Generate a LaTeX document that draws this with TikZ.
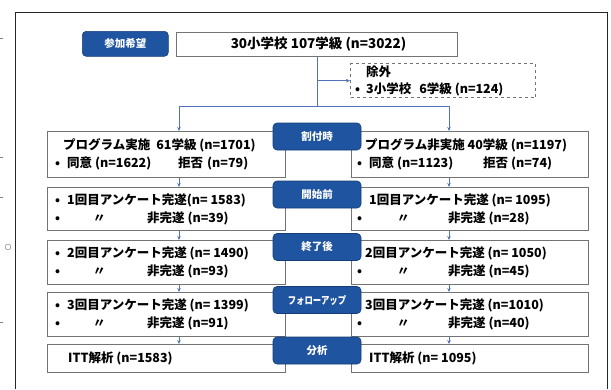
\documentclass[tikz,border=0pt]{standalone}
\usepackage{fontspec}
\setmainfont{Noto Sans CJK JP}
\newfontfamily\symfont{DejaVu Sans}
\usetikzlibrary{arrows.meta,calc}
\definecolor{labblue}{RGB}{31,84,160}
\definecolor{labdark}{RGB}{20,60,120}
\definecolor{boxgray}{RGB}{115,115,115}
\definecolor{connblue}{RGB}{80,115,185}
\newcommand{\bul}{\makebox[12pt][l]{•}}
\newcommand{\nob}{\hspace*{8pt}}
\begin{document}
\begin{tikzpicture}[x=1pt,y=-1pt,
  box/.style={draw=boxgray, line width=1.1pt, fill=white, anchor=north west, inner sep=0pt},
  lab/.style={fill=labblue, draw=labdark, line width=0.6pt, rounded corners=4pt, text=white,
    font=\bfseries\fontsize{10.5}{12}\selectfont, minimum width=88pt, minimum height=27pt, inner sep=0pt},
  txt/.style={anchor=west, align=left, font=\bfseries\fontsize{12.5}{18}\selectfont, inner sep=0pt},
  conn/.style={draw=connblue, line width=0.8pt, -{Stealth[length=4pt,width=3.5pt]}},
  plain/.style={draw=connblue, line width=0.8pt}]
\useasboundingbox (0,0) rectangle (611,389);
% page frame
\draw[line width=1.4pt, black!85] (15.5,389) -- (15.5,12.5) -- (607.5,12.5) -- (607.5,389);
% scan marks
\draw[black!50, line width=0.6pt] (0,38) -- (3,38);
\draw[black!50, line width=0.6pt] (0,157) -- (3,157);
\draw[black!50, line width=0.6pt] (0,197) -- (3,197);
\draw[black!50, line width=0.6pt] (0,322) -- (3,322);
\node[font=\symfont\fontsize{8}{8}\selectfont, text=black!70, inner sep=0pt] (circ) at (8,247) {○};

% top
\node[lab, anchor=north west, minimum width=86pt, minimum height=25pt] (l0) at (82,31) {参加希望};
\node[box, minimum width=281pt, minimum height=24pt] (top) at (176,32) {};
\node[txt, anchor=center, font=\bfseries\fontsize{13.5}{15}\selectfont] (toptxt) at ($(top.center)+(1.5,0)$) {30小学校 107学級 (n=3022)};
\node[box, dashed, line width=1.3pt, minimum width=185pt, minimum height=34pt] (ex) at (350,63) {};
\node[txt, font=\bfseries\fontsize{12.5}{17}\selectfont] (extxt) at ($(ex.west)+(5,0)$) {\hspace*{11pt}除外\\\makebox[11pt][l]{•}3小学校\hspace{8pt}6学級 (n=124)};

% rows
\node[box, minimum width=238pt, minimum height=46pt] (r1l) at (47,131) {};
\node[box, minimum width=237pt, minimum height=46pt] (r1r) at (351,131) {};
\node[box, minimum width=238pt, minimum height=43pt] (r2l) at (47,187) {};
\node[box, minimum width=237pt, minimum height=43pt] (r2r) at (351,187) {};
\node[box, minimum width=238pt, minimum height=44pt] (r3l) at (47,240) {};
\node[box, minimum width=237pt, minimum height=44pt] (r3r) at (351,240) {};
\node[box, minimum width=238pt, minimum height=44pt] (r4l) at (47,292) {};
\node[box, minimum width=237pt, minimum height=44pt] (r4r) at (351,292) {};
\node[box, minimum width=238pt, minimum height=28pt] (r5l) at (47,344) {};
\node[box, minimum width=237pt, minimum height=28pt] (r5r) at (351,344) {};

\node[txt] (t1l) at ($(r1l.west)+(8,0)$) {\nob プログラム実施\hspace{6pt}61学級 (n=1701)\\\bul\makebox[111pt][l]{同意 (n=1622)}拒否\hspace{4pt}(n=79)};
\node[txt] (t1r) at ($(r1r.west)+(6,0)$) {\nob プログラム非実施 40学級 (n=1197)\\\bul\makebox[114pt][l]{同意 (n=1123)}拒否 (n=74)};
\node[txt] (t2l) at ($(r2l.west)+(8,0)$) {\bul 1回目アンケート完遂(n= 1583)\\\bul\makebox[80pt][l]{\hspace{26pt}〃}非完遂 (n=39)};
\node[txt] (t2r) at ($(r2r.west)+(6,0)$) {\hspace*{12pt}1回目アンケート完遂 (n= 1095)\\\bul\makebox[79pt][l]{\hspace{28pt}〃}非完遂 (n=28)};
\node[txt] (t3l) at ($(r3l.west)+(8,0)$) {\bul 2回目アンケート完遂 (n= 1490)\\\bul\makebox[80pt][l]{\hspace{26pt}〃}非完遂 (n=93)};
\node[txt] (t3r) at ($(r3r.west)+(6,0)$) {\nob 2回目アンケート完遂 (n= 1050)\\\bul\makebox[79pt][l]{\hspace{28pt}〃}非完遂 (n=45)};
\node[txt] (t4l) at ($(r4l.west)+(8,0)$) {\bul 3回目アンケート完遂 (n= 1399)\\\bul\makebox[80pt][l]{\hspace{26pt}〃}非完遂 (n=91)};
\node[txt] (t4r) at ($(r4r.west)+(6,0)$) {\nob 3回目アンケート完遂 (n=1010)\\\bul\makebox[79pt][l]{\hspace{28pt}〃}非完遂 (n=40)};
\node[txt] (t5l) at ($(r5l.west)+(8,0)$) {\hspace*{13pt}ITT解析 (n=1583)};
\node[txt] (t5r) at ($(r5r.west)+(6,0)$) {\hspace*{12pt}ITT解析 (n= 1095)};

% stage labels
\node[lab] (l1) at (317,136.5) {割付時};
\node[lab] (l2) at (317,194.5) {開始前};
\node[lab] (l3) at (317,247) {終了後};
\node[lab] (l4) at (317,300) {\scalebox{0.8}[1]{フォローアップ}};
\node[lab] (l5) at (317,350.5) {分析};

% connectors
\coordinate (colL) at (179,0);
\coordinate (colR) at (449,0);
\coordinate (jn) at ($(top.south)+(0,49)$);
\draw[plain] (top.south) -- (jn);
\draw[conn] (top.south |- ex.west) -- (ex.west);
\draw[conn] (jn) -| (r1l.north -| colL);
\draw[conn] (jn) -| (r1r.north -| colR);
\draw[conn] (r1l.south -| colL) -- (r2l.north -| colL);
\draw[conn] (r2l.south -| colL) -- (r3l.north -| colL);
\draw[conn] (r3l.south -| colL) -- (r4l.north -| colL);
\draw[conn] (r4l.south -| colL) -- (r5l.north -| colL);
\draw[conn] (r1r.south -| colR) -- (r2r.north -| colR);
\draw[conn] (r2r.south -| colR) -- (r3r.north -| colR);
\draw[conn] (r3r.south -| colR) -- (r4r.north -| colR);
\draw[conn] (r4r.south -| colR) -- (r5r.north -| colR);
\end{tikzpicture}
\end{document}
